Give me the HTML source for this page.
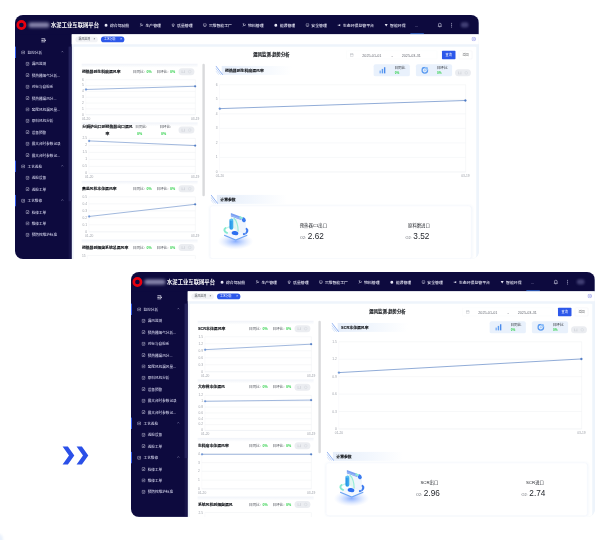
<!DOCTYPE html><html lang="zh-CN"><head><meta charset="utf-8"><title>漏风监测-趋势分析</title><style>
*{box-sizing:border-box;margin:0;padding:0}
html,body{width:604px;height:540px;background:#fff;overflow:hidden}
body{position:relative;font-family:"Liberation Sans","Noto Sans CJK SC",sans-serif;}
.wrap{position:absolute;width:463.7px;height:244.2px;border-radius:8px;overflow:hidden;background:#eef4fb}
.shot{position:absolute;left:0;top:0;width:1920px;height:1014px;transform:scale(0.2415);transform-origin:0 0;background:#eef4fb;color:#303133;font-size:14px}
.hdr{position:absolute;left:0;top:0;width:1920px;height:80px;background:#0d0a3e}
.navy{position:absolute;left:0;top:0;width:235px;height:1014px;background:#0d0a3e}
.side{position:absolute;left:0;top:80px;width:235px;height:930px}
.side .strip{position:absolute;left:222px;top:51px;width:12px;height:640px;background:#27265e;opacity:.85}
.logo{position:absolute;left:6px;top:21px;width:41px;height:41px;border-radius:50%;border:11px solid #e8000f}
.blurname{position:absolute;left:56px;top:31px;width:86px;height:21px;background:#8987ad;border-radius:8px;filter:blur(6px)}
.ptitle{position:absolute;left:149px;top:0;height:80px;line-height:82px;font-size:22px;font-weight:700;color:#fff;white-space:nowrap;letter-spacing:0.1px}
.nav{position:absolute;left:369px;top:0;height:80px;display:flex;align-items:center;color:#e8e8f6;font-size:16px;white-space:nowrap}
.nav .it{display:flex;align-items:center;margin-right:43px;height:80px;padding-top:4px;font-weight:500}
.nav .ic{width:16px;height:16px;margin-right:8px;flex:none}
.hdr .more{position:absolute;left:1655px;top:33px;color:#9a9ac0;font-size:18px;letter-spacing:0}
.hdr .bell{position:absolute;left:1749px;top:31px;width:20px;height:22px}
.hdr .dots{position:absolute;left:1805px;top:30px;width:6px;height:24px}
.hdr .ava{position:absolute;left:1846px;top:30px;width:32px;height:22px;border-radius:10px;background:#413f74;filter:blur(5px)}
.hdr .act{position:absolute;left:1637px;top:76px;width:56px;height:4px;background:#3a7bea}
.collapse{position:absolute;left:108px;top:16px;width:22px;height:18px}
.mi{position:absolute;left:0;width:235px;height:47.2px;line-height:47.2px;color:#d0d0e8;font-size:15px;font-weight:500;white-space:nowrap;padding-top:2px}
.mi.p{border-left:4px solid #2f5bf0}
.mi .ic{position:absolute;top:16px;width:16px;height:16px}
.mi .tx{position:absolute;top:2px}
.mi .chev{position:absolute;left:186px;top:17px;width:12px;height:8px}
.tabs{position:absolute;left:235px;top:80px;width:1685px;height:41px;background:#fff}
.tab{position:absolute;top:9px;height:24px;line-height:24px;border-radius:12px;font-size:12px;padding-left:13px;white-space:nowrap}
.tab .x{position:absolute;right:10px;top:0;font-size:13px}
.t1{left:15px;width:93px;background:#f2f3f6;color:#50545c}
.t2{left:121px;width:97px;background:#2d58ea;color:#fff}
.closeall{position:absolute;left:1655px;top:10px;width:19px;height:19px}
.panel{position:absolute;left:243px;top:131px;width:1667px;height:890px;background:#fff;border-radius:4px}
.h1{position:absolute;left:0;top:154px;width:200px;margin-left:962px;text-align:center;font-size:18px;font-weight:700;color:#14171c;-webkit-text-stroke:.4px #14171c;line-height:22px;white-space:nowrap}
.date{position:absolute;left:1372px;top:148px;width:376px;height:35px;border:1px solid #f3f5f8;border-radius:4px;font-size:15.5px;color:#6b6f78;line-height:35px;white-space:nowrap}
.date span{position:absolute;top:0}
.date svg{position:absolute;left:14px;top:9px;width:15px;height:15px}
.btn{position:absolute;top:148px;height:35px;line-height:35px;border-radius:3px;font-size:13px;text-align:center;white-space:nowrap}
.b1{left:1768px;width:56px;background:#2d58ea;color:#fff}
.b2{left:1838px;width:55px;background:#fff;color:#606266;border:1px solid #e4e7ed;line-height:33px}
.stat{position:absolute;top:204px;width:150px;height:50px;border-radius:8px;background:#e9f1fc}
.stat svg{position:absolute;left:22px;top:10px;width:30px;height:30px}
.stat .l{position:absolute;left:86px;top:7px;font-size:15px;color:#30343b;line-height:18px;white-space:nowrap}
.stat .v{position:absolute;left:87px;top:28px;font-size:13px;font-weight:700;color:#2fd04a;line-height:16px}
.pill{position:absolute;width:66px;height:29px;border-radius:15px;background:#ebedf1}
.pill i{position:absolute;top:8px;width:13px;height:13px;display:block}
.pill i.a{left:13px;border-left:3px solid #d2d5db;border-right:3px solid #d2d5db;border-bottom:2px solid #d2d5db;height:11px;top:9px}
.pill i.b{left:40px;border:2.5px solid #d2d5db;border-radius:50%}
.sec{position:absolute;height:37px;width:330px;background:linear-gradient(90deg,#e6eefa 0%,#f1f6fd 42%,#fff 88%)}
.sec .stripe{position:absolute;left:-26px;top:-1px;width:31px;height:38px}
.sec .tt{position:absolute;left:14px;top:0;line-height:38px;font-size:16px;font-weight:700;color:#14171c;white-space:nowrap;-webkit-text-stroke:.4px #14171c}
.lbl{position:absolute;font-size:13.5px;color:#a0a4ac;line-height:14px;white-space:nowrap}
.card{position:absolute;left:808px;top:791px;width:1082px;height:218px;background:#fff;border:1px solid #eef3fa;border-radius:10px;box-shadow:0 0 12px rgba(170,195,230,.22)}
.kv{position:absolute;top:0;width:437px;text-align:center}
.kv .k{position:absolute;left:0;width:100%;top:71px;font-size:18px;font-weight:400;color:#1f2228;line-height:20px;white-space:nowrap}
.kv .v{position:absolute;left:-6px;width:100%;top:105px;line-height:40px;white-space:nowrap;color:#24272d}
.kv .v small{font-size:15.5px;color:#5b5f68;margin-right:7px;position:relative;top:-1px}
.kv .v b{font-size:34px;font-weight:400}
.lc{position:absolute;left:276px;width:480px;height:243px}
.lc .top{position:absolute;left:0;top:0;width:480px;height:16px;background:linear-gradient(180deg,#f0f3f9,#fff)}
.lc .tt{position:absolute;left:1px;top:20px;font-size:16px;font-weight:700;color:#14171c;-webkit-text-stroke:.4px #14171c;line-height:24px;white-space:nowrap}
.lc .tt.w{width:212px;white-space:normal;text-align:center;top:3px;line-height:30px}
.lc .r{position:absolute;top:20px;font-size:15px;color:#50545c;line-height:24px;white-space:nowrap}
.lc .r b{color:#2fd04a;font-weight:700;margin-left:7px}
.lc .r.w{width:60px;white-space:normal;top:3px;line-height:30px}
.lc .r.w b{display:block;margin-left:7px}
.sbar{position:absolute;left:776px;top:202px;width:10px;border-radius:5px;background:#d9dadc}
.chev2{position:absolute;fill:#2b50e8}
</style></head><body><div class="wrap" style="left:15.4px;top:14.9px"><div class="shot"><div class="navy"></div><div class="hdr"><div class="logo"></div><div class="blurname"></div><div class="ptitle">水泥工业互联网平台</div><div class="nav"><div class="it"><svg class="ic" viewBox="0 0 14 14"><path d="M2 6.5a5 5 0 0 1 10 0v4.5H2z" fill="#e8e8f6"/><rect x="4" y="11" width="6" height="2" fill="#e8e8f6"/></svg><span>综合驾驶舱</span></div><div class="it"><svg class="ic" viewBox="0 0 14 14"><path d="M1 2h7M4.5 2v5M2 12l4-5 3 3 3-6" fill="none" stroke="#e8e8f6" stroke-width="2"/></svg><span>生产管理</span></div><div class="it"><svg class="ic" viewBox="0 0 14 14"><circle cx="7" cy="6" r="4" fill="none" stroke="#e8e8f6" stroke-width="2"/><path d="M7 10v3M4 13h6" stroke="#e8e8f6" stroke-width="1.6"/></svg><span>质量管理</span></div><div class="it"><svg class="ic" viewBox="0 0 14 14"><rect x="1.5" y="2" width="11" height="8" rx="1" fill="none" stroke="#e8e8f6" stroke-width="1.8"/><path d="M4 12.5h6" stroke="#e8e8f6" stroke-width="1.6"/></svg><span>三维智能工厂</span></div><div class="it"><svg class="ic" viewBox="0 0 14 14"><path d="M1 2h7M4.5 2v5M2 12l4-5 3 3 3-6" fill="none" stroke="#e8e8f6" stroke-width="2"/></svg><span>物料管理</span></div><div class="it"><svg class="ic" viewBox="0 0 14 14"><path d="M2 6.5a5 5 0 0 1 10 0v4.5H2z" fill="#e8e8f6"/><rect x="4" y="11" width="6" height="2" fill="#e8e8f6"/></svg><span>能源管理</span></div><div class="it"><svg class="ic" viewBox="0 0 14 14"><rect x="1.5" y="2" width="11" height="8" rx="1" fill="none" stroke="#e8e8f6" stroke-width="1.8"/><path d="M4 12.5h6" stroke="#e8e8f6" stroke-width="1.6"/></svg><span>安全管理</span></div><div class="it"><svg class="ic" viewBox="0 0 14 14"><path d="M11 3L4 7l7 4z" fill="#e8e8f6"/><rect x="2" y="5.5" width="3" height="3" fill="#e8e8f6"/></svg><span>生态环保监管平台</span></div><div class="it"><svg class="ic" viewBox="0 0 14 14"><path d="M1.5 3h11L7 12z" fill="#e8e8f6"/></svg><span>智能环保</span></div></div><div class="more">...</div><svg class="bell" viewBox="0 0 20 22"><path d="M10 2.5c-3.6 0-5.6 2.6-5.6 6v5L2.6 16h14.8l-1.8-2.5v-5c0-3.4-2-6-5.6-6z" fill="none" stroke="#e4e4f4" stroke-width="2.4"/><path d="M7.5 18.5h5" stroke="#e4e4f4" stroke-width="2.4"/></svg><svg class="dots" viewBox="0 0 6 24"><circle cx="3" cy="4" r="2.2" fill="#b8b8d6"/><circle cx="3" cy="12" r="2.2" fill="#b8b8d6"/><circle cx="3" cy="20" r="2.2" fill="#b8b8d6"/></svg><div class="ava"></div><div class="act"></div></div><div class="side"><div class="strip" style="height:885px;opacity:.35"></div><div class="strip"></div><svg class="collapse" viewBox="0 0 22 18"><path d="M1 2h16M1 9h10M1 16h16" stroke="#f0f0fa" stroke-width="3.6"/><path d="M14 3.5l7 5.5-7 5.5z" fill="#f0f0fa"/></svg><div class="mi p" style="top:51.0px"><span style="position:absolute;left:22px;top:0"><svg class="ic" style="left:0" viewBox="0 0 16 16"><rect x="1.2" y="1.6" width="13" height="13" rx="1.8" fill="none" stroke="#e6e6f6" stroke-width="2.1"/><path d="M4.4 7.6l2.8 2.9 4.6-5.6" fill="none" stroke="#e6e6f6" stroke-width="2"/></svg></span><span class="tx" style="left:48px">监控分析</span><svg class="chev" viewBox="0 0 10 7"><path d="M1 6l4-4 4 4" fill="none" stroke="#b0b0d0" stroke-width="1.7"/></svg></div><div class="mi" style="top:98.2px"><span style="position:absolute;left:44px;top:0"><svg class="ic" style="left:0" viewBox="0 0 16 16"><rect x="1.2" y="1.6" width="13" height="13" rx="1.8" fill="none" stroke="#e6e6f6" stroke-width="2.1"/><path d="M4.4 7.6l2.8 2.9 4.6-5.6" fill="none" stroke="#e6e6f6" stroke-width="2"/></svg></span><span class="tx" style="left:69px">漏风监测</span></div><div class="mi" style="top:145.4px"><span style="position:absolute;left:44px;top:0"><svg class="ic" style="left:0" viewBox="0 0 16 16"><rect x="1.2" y="1.6" width="13" height="13" rx="1.8" fill="none" stroke="#e6e6f6" stroke-width="2.1"/><path d="M4.4 7.6l2.8 2.9 4.6-5.6" fill="none" stroke="#e6e6f6" stroke-width="2"/></svg></span><span class="tx" style="left:69px">预热器烟气分析...</span></div><div class="mi" style="top:192.6px"><span style="position:absolute;left:44px;top:0"><svg class="ic" style="left:0" viewBox="0 0 16 16"><rect x="1.2" y="1.6" width="13" height="13" rx="1.8" fill="none" stroke="#e6e6f6" stroke-width="2.1"/><path d="M4.4 7.6l2.8 2.9 4.6-5.6" fill="none" stroke="#e6e6f6" stroke-width="2"/></svg></span><span class="tx" style="left:69px">对标与自检系</span></div><div class="mi" style="top:239.8px"><span style="position:absolute;left:44px;top:0"><svg class="ic" style="left:0" viewBox="0 0 16 16"><rect x="1.2" y="1.6" width="13" height="13" rx="1.8" fill="none" stroke="#e6e6f6" stroke-width="2.1"/><path d="M4.4 7.6l2.8 2.9 4.6-5.6" fill="none" stroke="#e6e6f6" stroke-width="2"/></svg></span><span class="tx" style="left:69px">预热器漏风分...</span></div><div class="mi" style="top:287.0px"><span style="position:absolute;left:44px;top:0"><svg class="ic" style="left:0" viewBox="0 0 16 16"><rect x="1.2" y="1.6" width="13" height="13" rx="1.8" fill="none" stroke="#e6e6f6" stroke-width="2.1"/><path d="M4.4 7.6l2.8 2.9 4.6-5.6" fill="none" stroke="#e6e6f6" stroke-width="2"/></svg></span><span class="tx" style="left:69px">窑尾风机漏风量...</span></div><div class="mi" style="top:334.2px"><span style="position:absolute;left:44px;top:0"><svg class="ic" style="left:0" viewBox="0 0 16 16"><rect x="1.2" y="1.6" width="13" height="13" rx="1.8" fill="none" stroke="#e6e6f6" stroke-width="2.1"/><path d="M4.4 7.6l2.8 2.9 4.6-5.6" fill="none" stroke="#e6e6f6" stroke-width="2"/></svg></span><span class="tx" style="left:69px">原料风机分析</span></div><div class="mi" style="top:381.4px"><span style="position:absolute;left:44px;top:0"><svg class="ic" style="left:0" viewBox="0 0 16 16"><rect x="1.2" y="1.6" width="13" height="13" rx="1.8" fill="none" stroke="#e6e6f6" stroke-width="2.1"/><path d="M4.4 7.6l2.8 2.9 4.6-5.6" fill="none" stroke="#e6e6f6" stroke-width="2"/></svg></span><span class="tx" style="left:69px">设备预警</span></div><div class="mi" style="top:428.6px"><span style="position:absolute;left:44px;top:0"><svg class="ic" style="left:0" viewBox="0 0 16 16"><rect x="1.2" y="1.6" width="13" height="13" rx="1.8" fill="none" stroke="#e6e6f6" stroke-width="2.1"/><path d="M4.4 7.6l2.8 2.9 4.6-5.6" fill="none" stroke="#e6e6f6" stroke-width="2"/></svg></span><span class="tx" style="left:69px">最大台时参数记录</span></div><div class="mi" style="top:475.8px"><span style="position:absolute;left:44px;top:0"><svg class="ic" style="left:0" viewBox="0 0 16 16"><rect x="1.2" y="1.6" width="13" height="13" rx="1.8" fill="none" stroke="#e6e6f6" stroke-width="2.1"/><path d="M4.4 7.6l2.8 2.9 4.6-5.6" fill="none" stroke="#e6e6f6" stroke-width="2"/></svg></span><span class="tx" style="left:69px">最大台时参数记...</span></div><div class="mi p" style="top:523.0px"><span style="position:absolute;left:22px;top:0"><svg class="ic" style="left:0" viewBox="0 0 16 16"><rect x="1.2" y="1.6" width="13" height="13" rx="1.8" fill="none" stroke="#e6e6f6" stroke-width="2.1"/><path d="M4.4 7.6l2.8 2.9 4.6-5.6" fill="none" stroke="#e6e6f6" stroke-width="2"/></svg></span><span class="tx" style="left:48px">工艺巡检</span><svg class="chev" viewBox="0 0 10 7"><path d="M1 6l4-4 4 4" fill="none" stroke="#b0b0d0" stroke-width="1.7"/></svg></div><div class="mi" style="top:570.2px"><span style="position:absolute;left:44px;top:0"><svg class="ic" style="left:0" viewBox="0 0 16 16"><rect x="1.2" y="1.6" width="13" height="13" rx="1.8" fill="none" stroke="#e6e6f6" stroke-width="2.1"/><path d="M4.4 7.6l2.8 2.9 4.6-5.6" fill="none" stroke="#e6e6f6" stroke-width="2"/></svg></span><span class="tx" style="left:69px">巡检设备</span></div><div class="mi" style="top:617.4px"><span style="position:absolute;left:44px;top:0"><svg class="ic" style="left:0" viewBox="0 0 16 16"><rect x="1.2" y="1.6" width="13" height="13" rx="1.8" fill="none" stroke="#e6e6f6" stroke-width="2.1"/><path d="M4.4 7.6l2.8 2.9 4.6-5.6" fill="none" stroke="#e6e6f6" stroke-width="2"/></svg></span><span class="tx" style="left:69px">巡检工单</span></div><div class="mi p" style="top:664.6px"><span style="position:absolute;left:22px;top:0"><svg class="ic" style="left:0" viewBox="0 0 16 16"><rect x="1.2" y="1.6" width="13" height="13" rx="1.8" fill="none" stroke="#e6e6f6" stroke-width="2.1"/><path d="M4.4 7.6l2.8 2.9 4.6-5.6" fill="none" stroke="#e6e6f6" stroke-width="2"/></svg></span><span class="tx" style="left:48px">工艺维修</span><svg class="chev" viewBox="0 0 10 7"><path d="M1 6l4-4 4 4" fill="none" stroke="#b0b0d0" stroke-width="1.7"/></svg></div><div class="mi" style="top:711.8px"><span style="position:absolute;left:44px;top:0"><svg class="ic" style="left:0" viewBox="0 0 16 16"><rect x="1.2" y="1.6" width="13" height="13" rx="1.8" fill="none" stroke="#e6e6f6" stroke-width="2.1"/><path d="M4.4 7.6l2.8 2.9 4.6-5.6" fill="none" stroke="#e6e6f6" stroke-width="2"/></svg></span><span class="tx" style="left:69px">检修工单</span></div><div class="mi" style="top:759.0px"><span style="position:absolute;left:44px;top:0"><svg class="ic" style="left:0" viewBox="0 0 16 16"><rect x="1.2" y="1.6" width="13" height="13" rx="1.8" fill="none" stroke="#e6e6f6" stroke-width="2.1"/><path d="M4.4 7.6l2.8 2.9 4.6-5.6" fill="none" stroke="#e6e6f6" stroke-width="2"/></svg></span><span class="tx" style="left:69px">维修工单</span></div><div class="mi" style="top:806.2px"><span style="position:absolute;left:44px;top:0"><svg class="ic" style="left:0" viewBox="0 0 16 16"><rect x="1.2" y="1.6" width="13" height="13" rx="1.8" fill="none" stroke="#e6e6f6" stroke-width="2.1"/><path d="M4.4 7.6l2.8 2.9 4.6-5.6" fill="none" stroke="#e6e6f6" stroke-width="2"/></svg></span><span class="tx" style="left:69px">预防性维护标准</span></div></div><div class="tabs"><div class="tab t1">漏风监测<span class="x">×</span></div><div class="tab t2">工艺分析<span class="x">×</span></div><svg class="closeall" viewBox="0 0 19 19"><circle cx="9.5" cy="9.5" r="8" fill="#f1f2ff" stroke="#7f84e2" stroke-width="2"/><path d="M6.3 6.3l6.4 6.4M12.7 6.3l-6.4 6.4" stroke="#7f84e2" stroke-width="1.8"/></svg></div><div class="panel"></div><div class="h1">漏风监测-趋势分析</div><div class="date"><svg viewBox="0 0 14 14"><rect x="1" y="2" width="12" height="11" rx="1" fill="none" stroke="#a4a8b0" stroke-width="1.6"/><path d="M1 5.5h12M4 .5v3M10 .5v3" stroke="#a4a8b0" stroke-width="1.6"/></svg><span style="left:65px">2025-01-01</span><span style="left:186px">-</span><span style="left:228px">2025-03-31</span></div><div class="btn b1">查询</div><div class="btn b2">返回</div><div class="stat" style="left:1485px"><svg viewBox="0 0 26 26"><rect x="2" y="14" width="5" height="10" fill="#7fb0f5"/><rect x="10" y="8" width="5" height="16" fill="#5b9bf0"/><rect x="18" y="2" width="5" height="22" fill="#4a8bec"/></svg><div class="l">日同比</div><div class="v">0%</div></div><div class="stat" style="left:1660px"><svg viewBox="0 0 26 26"><circle cx="13" cy="13" r="10" fill="none" stroke="#5b9bf0" stroke-width="5"/><path d="M13 3a10 10 0 0 1 10 10" fill="none" stroke="#8fc0fa" stroke-width="5"/><circle cx="13" cy="13" r="4" fill="#a9cdf9"/></svg><div class="l">日环比</div><div class="v">0%</div></div><div class="pill" style="left:1822px;top:225px"><i class="a"></i><i class="b"></i></div><div class="sec" style="left:856px;top:211px"><svg class="stripe" viewBox="0 0 30 36"><path d="M1 0L29 36" stroke="#4a80ea" stroke-width="2.4"/><path d="M1 10L21 36" stroke="#8fb4f3" stroke-width="2.2"/><path d="M1 20L13 36" stroke="#bcd2f7" stroke-width="2"/></svg><div class="tt">预热器到生料磨漏风率</div></div><svg style="position:absolute;left:837px;top:279px;width:1039px;height:381px;overflow:visible" viewBox="-10 -10 1039 381"><path d="M0 0.0H1019" stroke="#eceef2" stroke-width="1.8"/><path d="M0 60.2H1019" stroke="#eceef2" stroke-width="1.8"/><path d="M0 120.3H1019" stroke="#eceef2" stroke-width="1.8"/><path d="M0 180.5H1019" stroke="#eceef2" stroke-width="1.8"/><path d="M0 240.7H1019" stroke="#eceef2" stroke-width="1.8"/><path d="M0 300.8H1019" stroke="#eceef2" stroke-width="1.8"/><path d="M0 361.0H1019" stroke="#dfe3e9" stroke-width="1.8"/><path d="M1019 0V361" stroke="#eceef2" stroke-width="1.8"/><path d="M0 0V361" stroke="#f1f3f6" stroke-width="1.6"/><path d="M1 98.7L1018 65.0" stroke="#5c84c4" stroke-width="2.8" fill="none"/><circle cx="1" cy="98.7" r="4" fill="#6f9be0" stroke="#5c84c4" stroke-width="1.5"/><circle cx="1018" cy="65.0" r="4" fill="#4d79c4" stroke="#4d79c4" stroke-width="1.5"/></svg><div class="lbl" style="left:801px;width:38px;text-align:right;top:282.0px">6</div><div class="lbl" style="left:801px;width:38px;text-align:right;top:342.2px">5</div><div class="lbl" style="left:801px;width:38px;text-align:right;top:402.3px">4</div><div class="lbl" style="left:801px;width:38px;text-align:right;top:462.5px">3</div><div class="lbl" style="left:801px;width:38px;text-align:right;top:522.7px">2</div><div class="lbl" style="left:801px;width:38px;text-align:right;top:582.8px">1</div><div class="lbl" style="left:801px;width:38px;text-align:right;top:643.0px">0</div><div class="lbl" style="left:831px;top:661px">01-20</div><div class="lbl" style="left:1848px;top:661px">03-19</div><div class="sec" style="left:836px;top:745px"><svg class="stripe" viewBox="0 0 30 36"><path d="M1 0L29 36" stroke="#4a80ea" stroke-width="2.4"/><path d="M1 10L21 36" stroke="#8fb4f3" stroke-width="2.2"/><path d="M1 20L13 36" stroke="#bcd2f7" stroke-width="2"/></svg><div class="tt">计算参数</div></div><div class="card"><svg style="position:absolute;left:1px;top:-2px;width:220px;height:216px;overflow:visible" viewBox="0 0 220 216">
<defs><radialGradient id="g1" cx="50%" cy="50%" r="50%"><stop offset="0" stop-color="#6f9cff" stop-opacity=".8"/><stop offset=".5" stop-color="#8fb3ff" stop-opacity=".38"/><stop offset="1" stop-color="#c4d6ff" stop-opacity="0"/></radialGradient>
<linearGradient id="c1" x1="0" x2="1"><stop offset="0" stop-color="#1f8fe6"/><stop offset="1" stop-color="#49b4f2"/></linearGradient></defs>
<ellipse cx="103" cy="148" rx="74" ry="33" fill="url(#g1)"/>
<path d="M104 105l45 17-45 18-45-18z" fill="#6fa4f4" stroke="#6fa4f4" stroke-width="7" stroke-linejoin="round"/>
<path d="M104 100l45 17-45 18-45-18z" fill="#f4f8fe" stroke="#f4f8fe" stroke-width="7" stroke-linejoin="round"/>
<path d="M62 92c-8 5-7 15 6 20" fill="none" stroke="#86ead0" stroke-width="8" stroke-linecap="round"/>
<path d="M66 92c14-7 26-7 38-3" fill="none" stroke="#b4f2e0" stroke-width="5" stroke-linecap="round" opacity=".8"/>
<path d="M148 96c8 6 4 16-10 21" fill="none" stroke="#3f7cf0" stroke-width="9" stroke-linecap="round"/>
<path d="M106 44l38 14v56l-38-12z" fill="#f0f5fd" stroke="#dde7f8" stroke-width="1.2"/>
<path d="M84 30l42 15v14l-42-15z" fill="#7ba0f2"/>
<path d="M84 40l42 15" stroke="#a9c3f8" stroke-width="3"/>
<path d="M84 46l24 9v44l-24-9z" fill="#dff5f0" opacity=".9"/>
<path d="M96 50c12 12 18 34 18 56" stroke="#8decd2" stroke-width="5" fill="none" opacity=".9"/>
<rect x="78" y="54" width="16" height="45" rx="8" fill="url(#c1)"/>
<ellipse cx="86" cy="58" rx="8" ry="4" fill="#5cc0f5"/>
<ellipse cx="137" cy="58" rx="8" ry="10.5" transform="rotate(-30 137 58)" fill="#3b7cf0"/>
<ellipse cx="126" cy="49" rx="8" ry="4.5" transform="rotate(25 126 49)" fill="#8decd2"/>
<ellipse cx="101" cy="113" rx="14" ry="8.5" transform="rotate(10 101 113)" fill="#2d6ff0"/>
</svg><div class="kv" style="left:208px"><div class="k">预热器C1出口</div><div class="v"><small>O2:</small><b>2.62</b></div></div><div class="kv" style="left:645px"><div class="k">原料磨进口</div><div class="v"><small>O2:</small><b>3.52</b></div></div></div><div class="lc" style="top:202.0px"><div class="top"></div><div class="tt">预热器到生料磨漏风率</div><div class="r" style="left:212px">日同比:<b>0%</b></div><div class="r" style="left:310px">日环比:<b>0%</b></div><div class="pill" style="left:401px;top:18px"><i class="a"></i><i class="b"></i></div><svg style="position:absolute;left:7px;top:56px;width:474px;height:165px;overflow:visible" viewBox="-10 -10 474 165"><path d="M0 0.0H454" stroke="#eceef2" stroke-width="1.8"/><path d="M0 24.2H454" stroke="#eceef2" stroke-width="1.8"/><path d="M0 48.3H454" stroke="#eceef2" stroke-width="1.8"/><path d="M0 72.5H454" stroke="#eceef2" stroke-width="1.8"/><path d="M0 96.7H454" stroke="#eceef2" stroke-width="1.8"/><path d="M0 120.8H454" stroke="#eceef2" stroke-width="1.8"/><path d="M0 145.0H454" stroke="#dfe3e9" stroke-width="1.8"/><path d="M454 0V145" stroke="#eceef2" stroke-width="1.8"/><path d="M0 0V145" stroke="#f1f3f6" stroke-width="1.6"/><path d="M1 40.4L453 27.1" stroke="#5c84c4" stroke-width="2.4" fill="none"/><circle cx="1" cy="40.4" r="3.6" fill="#6f9be0" stroke="#5c84c4" stroke-width="1.5"/><circle cx="453" cy="27.1" r="3.6" fill="#4d79c4" stroke="#4d79c4" stroke-width="1.5"/></svg><div class="lbl" style="left:-29px;width:38px;text-align:right;top:59.0px">6</div><div class="lbl" style="left:-29px;width:38px;text-align:right;top:83.2px">5</div><div class="lbl" style="left:-29px;width:38px;text-align:right;top:107.3px">4</div><div class="lbl" style="left:-29px;width:38px;text-align:right;top:131.5px">3</div><div class="lbl" style="left:-29px;width:38px;text-align:right;top:155.7px">2</div><div class="lbl" style="left:-29px;width:38px;text-align:right;top:179.8px">1</div><div class="lbl" style="left:-29px;width:38px;text-align:right;top:204.0px">0</div><div class="lbl" style="left:1px;top:220px">01-20</div><div class="lbl" style="left:453px;top:220px">03-19</div></div><div class="lc" style="top:444.6px"><div class="top"></div><div class="tt w">分解炉出口到预热器出口漏风率</div><div class="r w" style="left:222px">日同比:<b>0%</b></div><div class="r w" style="left:322px">日环比:<b>0%</b></div><div class="pill" style="left:401px;top:17px"><i class="a"></i><i class="b"></i></div><svg style="position:absolute;left:20px;top:56px;width:461px;height:165px;overflow:visible" viewBox="-10 -10 461 165"><path d="M0 0.0H441" stroke="#eceef2" stroke-width="1.8"/><path d="M0 29.0H441" stroke="#eceef2" stroke-width="1.8"/><path d="M0 58.0H441" stroke="#eceef2" stroke-width="1.8"/><path d="M0 87.0H441" stroke="#eceef2" stroke-width="1.8"/><path d="M0 116.0H441" stroke="#eceef2" stroke-width="1.8"/><path d="M0 145.0H441" stroke="#dfe3e9" stroke-width="1.8"/><path d="M441 0V145" stroke="#eceef2" stroke-width="1.8"/><path d="M0 0V145" stroke="#f1f3f6" stroke-width="1.6"/><path d="M1 10.4L440 29.6" stroke="#5c84c4" stroke-width="2.4" fill="none"/><circle cx="1" cy="10.4" r="3.6" fill="#6f9be0" stroke="#5c84c4" stroke-width="1.5"/><circle cx="440" cy="29.6" r="3.6" fill="#4d79c4" stroke="#4d79c4" stroke-width="1.5"/></svg><div class="lbl" style="left:-16px;width:38px;text-align:right;top:59.0px">2.5</div><div class="lbl" style="left:-16px;width:38px;text-align:right;top:88.0px">2</div><div class="lbl" style="left:-16px;width:38px;text-align:right;top:117.0px">1.5</div><div class="lbl" style="left:-16px;width:38px;text-align:right;top:146.0px">1</div><div class="lbl" style="left:-16px;width:38px;text-align:right;top:175.0px">0.5</div><div class="lbl" style="left:-16px;width:38px;text-align:right;top:204.0px">0</div><div class="lbl" style="left:14px;top:220px">01-20</div><div class="lbl" style="left:453px;top:220px">03-19</div></div><div class="lc" style="top:687.2px"><div class="top"></div><div class="tt">高温风机本体漏风率</div><div class="r" style="left:212px">日同比:<b>0%</b></div><div class="r" style="left:310px">日环比:<b>0%</b></div><div class="pill" style="left:401px;top:18px"><i class="a"></i><i class="b"></i></div><svg style="position:absolute;left:20px;top:56px;width:461px;height:165px;overflow:visible" viewBox="-10 -10 461 165"><path d="M0 0.0H441" stroke="#eceef2" stroke-width="1.8"/><path d="M0 29.0H441" stroke="#eceef2" stroke-width="1.8"/><path d="M0 58.0H441" stroke="#eceef2" stroke-width="1.8"/><path d="M0 87.0H441" stroke="#eceef2" stroke-width="1.8"/><path d="M0 116.0H441" stroke="#eceef2" stroke-width="1.8"/><path d="M0 145.0H441" stroke="#dfe3e9" stroke-width="1.8"/><path d="M441 0V145" stroke="#eceef2" stroke-width="1.8"/><path d="M0 0V145" stroke="#f1f3f6" stroke-width="1.6"/><path d="M1 81.2L440 31.0" stroke="#5c84c4" stroke-width="2.4" fill="none"/><circle cx="1" cy="81.2" r="3.6" fill="#6f9be0" stroke="#5c84c4" stroke-width="1.5"/><circle cx="440" cy="31.0" r="3.6" fill="#4d79c4" stroke="#4d79c4" stroke-width="1.5"/></svg><div class="lbl" style="left:-16px;width:38px;text-align:right;top:59.0px">0.5</div><div class="lbl" style="left:-16px;width:38px;text-align:right;top:88.0px">0.4</div><div class="lbl" style="left:-16px;width:38px;text-align:right;top:117.0px">0.3</div><div class="lbl" style="left:-16px;width:38px;text-align:right;top:146.0px">0.2</div><div class="lbl" style="left:-16px;width:38px;text-align:right;top:175.0px">0.1</div><div class="lbl" style="left:-16px;width:38px;text-align:right;top:204.0px">0</div><div class="lbl" style="left:14px;top:220px">01-20</div><div class="lbl" style="left:453px;top:220px">03-19</div></div><div class="lc" style="top:929.8px"><div class="top"></div><div class="tt">预热器到烟囱系统总漏风率</div><div class="r" style="left:212px">日同比:<b>0%</b></div><div class="r" style="left:310px">日环比:<b>0%</b></div><div class="pill" style="left:401px;top:18px"><i class="a"></i><i class="b"></i></div><svg style="position:absolute;left:14px;top:56px;width:467px;height:165px;overflow:visible" viewBox="-10 -10 467 165"><path d="M0 0.0H447" stroke="#eceef2" stroke-width="1.8"/><path d="M0 29.0H447" stroke="#eceef2" stroke-width="1.8"/><path d="M0 58.0H447" stroke="#eceef2" stroke-width="1.8"/><path d="M0 87.0H447" stroke="#eceef2" stroke-width="1.8"/><path d="M0 116.0H447" stroke="#eceef2" stroke-width="1.8"/><path d="M0 145.0H447" stroke="#dfe3e9" stroke-width="1.8"/><path d="M447 0V145" stroke="#eceef2" stroke-width="1.8"/><path d="M0 0V145" stroke="#f1f3f6" stroke-width="1.6"/><path d="M1 38.7L446 29.0" stroke="#5c84c4" stroke-width="2.4" fill="none"/><circle cx="1" cy="38.7" r="3.6" fill="#6f9be0" stroke="#5c84c4" stroke-width="1.5"/><circle cx="446" cy="29.0" r="3.6" fill="#4d79c4" stroke="#4d79c4" stroke-width="1.5"/></svg><div class="lbl" style="left:-22px;width:38px;text-align:right;top:59.0px">15</div><div class="lbl" style="left:-22px;width:38px;text-align:right;top:88.0px">12</div><div class="lbl" style="left:-22px;width:38px;text-align:right;top:117.0px">9</div><div class="lbl" style="left:-22px;width:38px;text-align:right;top:146.0px">6</div><div class="lbl" style="left:-22px;width:38px;text-align:right;top:175.0px">3</div><div class="lbl" style="left:-22px;width:38px;text-align:right;top:204.0px">0</div><div class="lbl" style="left:8px;top:220px">01-20</div><div class="lbl" style="left:453px;top:220px">03-19</div></div><div class="sbar" style="height:548px"></div></div></div><div class="wrap" style="left:130.9px;top:272.4px"><div class="shot"><div class="navy"></div><div class="hdr"><div class="logo"></div><div class="blurname"></div><div class="ptitle">水泥工业互联网平台</div><div class="nav"><div class="it"><svg class="ic" viewBox="0 0 14 14"><path d="M2 6.5a5 5 0 0 1 10 0v4.5H2z" fill="#e8e8f6"/><rect x="4" y="11" width="6" height="2" fill="#e8e8f6"/></svg><span>综合驾驶舱</span></div><div class="it"><svg class="ic" viewBox="0 0 14 14"><path d="M1 2h7M4.5 2v5M2 12l4-5 3 3 3-6" fill="none" stroke="#e8e8f6" stroke-width="2"/></svg><span>生产管理</span></div><div class="it"><svg class="ic" viewBox="0 0 14 14"><circle cx="7" cy="6" r="4" fill="none" stroke="#e8e8f6" stroke-width="2"/><path d="M7 10v3M4 13h6" stroke="#e8e8f6" stroke-width="1.6"/></svg><span>质量管理</span></div><div class="it"><svg class="ic" viewBox="0 0 14 14"><rect x="1.5" y="2" width="11" height="8" rx="1" fill="none" stroke="#e8e8f6" stroke-width="1.8"/><path d="M4 12.5h6" stroke="#e8e8f6" stroke-width="1.6"/></svg><span>三维智能工厂</span></div><div class="it"><svg class="ic" viewBox="0 0 14 14"><path d="M1 2h7M4.5 2v5M2 12l4-5 3 3 3-6" fill="none" stroke="#e8e8f6" stroke-width="2"/></svg><span>物料管理</span></div><div class="it"><svg class="ic" viewBox="0 0 14 14"><path d="M2 6.5a5 5 0 0 1 10 0v4.5H2z" fill="#e8e8f6"/><rect x="4" y="11" width="6" height="2" fill="#e8e8f6"/></svg><span>能源管理</span></div><div class="it"><svg class="ic" viewBox="0 0 14 14"><rect x="1.5" y="2" width="11" height="8" rx="1" fill="none" stroke="#e8e8f6" stroke-width="1.8"/><path d="M4 12.5h6" stroke="#e8e8f6" stroke-width="1.6"/></svg><span>安全管理</span></div><div class="it"><svg class="ic" viewBox="0 0 14 14"><path d="M11 3L4 7l7 4z" fill="#e8e8f6"/><rect x="2" y="5.5" width="3" height="3" fill="#e8e8f6"/></svg><span>生态环保监管平台</span></div><div class="it"><svg class="ic" viewBox="0 0 14 14"><path d="M1.5 3h11L7 12z" fill="#e8e8f6"/></svg><span>智能环保</span></div></div><div class="more">...</div><svg class="bell" viewBox="0 0 20 22"><path d="M10 2.5c-3.6 0-5.6 2.6-5.6 6v5L2.6 16h14.8l-1.8-2.5v-5c0-3.4-2-6-5.6-6z" fill="none" stroke="#e4e4f4" stroke-width="2.4"/><path d="M7.5 18.5h5" stroke="#e4e4f4" stroke-width="2.4"/></svg><svg class="dots" viewBox="0 0 6 24"><circle cx="3" cy="4" r="2.2" fill="#b8b8d6"/><circle cx="3" cy="12" r="2.2" fill="#b8b8d6"/><circle cx="3" cy="20" r="2.2" fill="#b8b8d6"/></svg><div class="ava"></div><div class="act"></div></div><div class="side"><div class="strip" style="height:885px;opacity:.35"></div><div class="strip"></div><svg class="collapse" viewBox="0 0 22 18"><path d="M1 2h16M1 9h10M1 16h16" stroke="#f0f0fa" stroke-width="3.6"/><path d="M14 3.5l7 5.5-7 5.5z" fill="#f0f0fa"/></svg><div class="mi p" style="top:51.0px"><span style="position:absolute;left:22px;top:0"><svg class="ic" style="left:0" viewBox="0 0 16 16"><rect x="1.2" y="1.6" width="13" height="13" rx="1.8" fill="none" stroke="#e6e6f6" stroke-width="2.1"/><path d="M4.4 7.6l2.8 2.9 4.6-5.6" fill="none" stroke="#e6e6f6" stroke-width="2"/></svg></span><span class="tx" style="left:48px">监控分析</span><svg class="chev" viewBox="0 0 10 7"><path d="M1 6l4-4 4 4" fill="none" stroke="#b0b0d0" stroke-width="1.7"/></svg></div><div class="mi" style="top:98.2px"><span style="position:absolute;left:44px;top:0"><svg class="ic" style="left:0" viewBox="0 0 16 16"><rect x="1.2" y="1.6" width="13" height="13" rx="1.8" fill="none" stroke="#e6e6f6" stroke-width="2.1"/><path d="M4.4 7.6l2.8 2.9 4.6-5.6" fill="none" stroke="#e6e6f6" stroke-width="2"/></svg></span><span class="tx" style="left:69px">漏风监测</span></div><div class="mi" style="top:145.4px"><span style="position:absolute;left:44px;top:0"><svg class="ic" style="left:0" viewBox="0 0 16 16"><rect x="1.2" y="1.6" width="13" height="13" rx="1.8" fill="none" stroke="#e6e6f6" stroke-width="2.1"/><path d="M4.4 7.6l2.8 2.9 4.6-5.6" fill="none" stroke="#e6e6f6" stroke-width="2"/></svg></span><span class="tx" style="left:69px">预热器烟气分析...</span></div><div class="mi" style="top:192.6px"><span style="position:absolute;left:44px;top:0"><svg class="ic" style="left:0" viewBox="0 0 16 16"><rect x="1.2" y="1.6" width="13" height="13" rx="1.8" fill="none" stroke="#e6e6f6" stroke-width="2.1"/><path d="M4.4 7.6l2.8 2.9 4.6-5.6" fill="none" stroke="#e6e6f6" stroke-width="2"/></svg></span><span class="tx" style="left:69px">对标与自检系</span></div><div class="mi" style="top:239.8px"><span style="position:absolute;left:44px;top:0"><svg class="ic" style="left:0" viewBox="0 0 16 16"><rect x="1.2" y="1.6" width="13" height="13" rx="1.8" fill="none" stroke="#e6e6f6" stroke-width="2.1"/><path d="M4.4 7.6l2.8 2.9 4.6-5.6" fill="none" stroke="#e6e6f6" stroke-width="2"/></svg></span><span class="tx" style="left:69px">预热器漏风分...</span></div><div class="mi" style="top:287.0px"><span style="position:absolute;left:44px;top:0"><svg class="ic" style="left:0" viewBox="0 0 16 16"><rect x="1.2" y="1.6" width="13" height="13" rx="1.8" fill="none" stroke="#e6e6f6" stroke-width="2.1"/><path d="M4.4 7.6l2.8 2.9 4.6-5.6" fill="none" stroke="#e6e6f6" stroke-width="2"/></svg></span><span class="tx" style="left:69px">窑尾风机漏风量...</span></div><div class="mi" style="top:334.2px"><span style="position:absolute;left:44px;top:0"><svg class="ic" style="left:0" viewBox="0 0 16 16"><rect x="1.2" y="1.6" width="13" height="13" rx="1.8" fill="none" stroke="#e6e6f6" stroke-width="2.1"/><path d="M4.4 7.6l2.8 2.9 4.6-5.6" fill="none" stroke="#e6e6f6" stroke-width="2"/></svg></span><span class="tx" style="left:69px">原料风机分析</span></div><div class="mi" style="top:381.4px"><span style="position:absolute;left:44px;top:0"><svg class="ic" style="left:0" viewBox="0 0 16 16"><rect x="1.2" y="1.6" width="13" height="13" rx="1.8" fill="none" stroke="#e6e6f6" stroke-width="2.1"/><path d="M4.4 7.6l2.8 2.9 4.6-5.6" fill="none" stroke="#e6e6f6" stroke-width="2"/></svg></span><span class="tx" style="left:69px">设备预警</span></div><div class="mi" style="top:428.6px"><span style="position:absolute;left:44px;top:0"><svg class="ic" style="left:0" viewBox="0 0 16 16"><rect x="1.2" y="1.6" width="13" height="13" rx="1.8" fill="none" stroke="#e6e6f6" stroke-width="2.1"/><path d="M4.4 7.6l2.8 2.9 4.6-5.6" fill="none" stroke="#e6e6f6" stroke-width="2"/></svg></span><span class="tx" style="left:69px">最大台时参数记录</span></div><div class="mi" style="top:475.8px"><span style="position:absolute;left:44px;top:0"><svg class="ic" style="left:0" viewBox="0 0 16 16"><rect x="1.2" y="1.6" width="13" height="13" rx="1.8" fill="none" stroke="#e6e6f6" stroke-width="2.1"/><path d="M4.4 7.6l2.8 2.9 4.6-5.6" fill="none" stroke="#e6e6f6" stroke-width="2"/></svg></span><span class="tx" style="left:69px">最大台时参数记...</span></div><div class="mi p" style="top:523.0px"><span style="position:absolute;left:22px;top:0"><svg class="ic" style="left:0" viewBox="0 0 16 16"><rect x="1.2" y="1.6" width="13" height="13" rx="1.8" fill="none" stroke="#e6e6f6" stroke-width="2.1"/><path d="M4.4 7.6l2.8 2.9 4.6-5.6" fill="none" stroke="#e6e6f6" stroke-width="2"/></svg></span><span class="tx" style="left:48px">工艺巡检</span><svg class="chev" viewBox="0 0 10 7"><path d="M1 6l4-4 4 4" fill="none" stroke="#b0b0d0" stroke-width="1.7"/></svg></div><div class="mi" style="top:570.2px"><span style="position:absolute;left:44px;top:0"><svg class="ic" style="left:0" viewBox="0 0 16 16"><rect x="1.2" y="1.6" width="13" height="13" rx="1.8" fill="none" stroke="#e6e6f6" stroke-width="2.1"/><path d="M4.4 7.6l2.8 2.9 4.6-5.6" fill="none" stroke="#e6e6f6" stroke-width="2"/></svg></span><span class="tx" style="left:69px">巡检设备</span></div><div class="mi" style="top:617.4px"><span style="position:absolute;left:44px;top:0"><svg class="ic" style="left:0" viewBox="0 0 16 16"><rect x="1.2" y="1.6" width="13" height="13" rx="1.8" fill="none" stroke="#e6e6f6" stroke-width="2.1"/><path d="M4.4 7.6l2.8 2.9 4.6-5.6" fill="none" stroke="#e6e6f6" stroke-width="2"/></svg></span><span class="tx" style="left:69px">巡检工单</span></div><div class="mi p" style="top:664.6px"><span style="position:absolute;left:22px;top:0"><svg class="ic" style="left:0" viewBox="0 0 16 16"><rect x="1.2" y="1.6" width="13" height="13" rx="1.8" fill="none" stroke="#e6e6f6" stroke-width="2.1"/><path d="M4.4 7.6l2.8 2.9 4.6-5.6" fill="none" stroke="#e6e6f6" stroke-width="2"/></svg></span><span class="tx" style="left:48px">工艺维修</span><svg class="chev" viewBox="0 0 10 7"><path d="M1 6l4-4 4 4" fill="none" stroke="#b0b0d0" stroke-width="1.7"/></svg></div><div class="mi" style="top:711.8px"><span style="position:absolute;left:44px;top:0"><svg class="ic" style="left:0" viewBox="0 0 16 16"><rect x="1.2" y="1.6" width="13" height="13" rx="1.8" fill="none" stroke="#e6e6f6" stroke-width="2.1"/><path d="M4.4 7.6l2.8 2.9 4.6-5.6" fill="none" stroke="#e6e6f6" stroke-width="2"/></svg></span><span class="tx" style="left:69px">检修工单</span></div><div class="mi" style="top:759.0px"><span style="position:absolute;left:44px;top:0"><svg class="ic" style="left:0" viewBox="0 0 16 16"><rect x="1.2" y="1.6" width="13" height="13" rx="1.8" fill="none" stroke="#e6e6f6" stroke-width="2.1"/><path d="M4.4 7.6l2.8 2.9 4.6-5.6" fill="none" stroke="#e6e6f6" stroke-width="2"/></svg></span><span class="tx" style="left:69px">维修工单</span></div><div class="mi" style="top:806.2px"><span style="position:absolute;left:44px;top:0"><svg class="ic" style="left:0" viewBox="0 0 16 16"><rect x="1.2" y="1.6" width="13" height="13" rx="1.8" fill="none" stroke="#e6e6f6" stroke-width="2.1"/><path d="M4.4 7.6l2.8 2.9 4.6-5.6" fill="none" stroke="#e6e6f6" stroke-width="2"/></svg></span><span class="tx" style="left:69px">预防性维护标准</span></div></div><div class="tabs"><div class="tab t1">漏风监测<span class="x">×</span></div><div class="tab t2">工艺分析<span class="x">×</span></div><svg class="closeall" viewBox="0 0 19 19"><circle cx="9.5" cy="9.5" r="8" fill="#f1f2ff" stroke="#7f84e2" stroke-width="2"/><path d="M6.3 6.3l6.4 6.4M12.7 6.3l-6.4 6.4" stroke="#7f84e2" stroke-width="1.8"/></svg></div><div class="panel"></div><div class="h1">漏风监测-趋势分析</div><div class="date"><svg viewBox="0 0 14 14"><rect x="1" y="2" width="12" height="11" rx="1" fill="none" stroke="#a4a8b0" stroke-width="1.6"/><path d="M1 5.5h12M4 .5v3M10 .5v3" stroke="#a4a8b0" stroke-width="1.6"/></svg><span style="left:65px">2025-01-01</span><span style="left:186px">-</span><span style="left:228px">2025-03-31</span></div><div class="btn b1">查询</div><div class="btn b2">返回</div><div class="stat" style="left:1485px"><svg viewBox="0 0 26 26"><rect x="2" y="14" width="5" height="10" fill="#7fb0f5"/><rect x="10" y="8" width="5" height="16" fill="#5b9bf0"/><rect x="18" y="2" width="5" height="22" fill="#4a8bec"/></svg><div class="l">日同比</div><div class="v">0%</div></div><div class="stat" style="left:1660px"><svg viewBox="0 0 26 26"><circle cx="13" cy="13" r="10" fill="none" stroke="#5b9bf0" stroke-width="5"/><path d="M13 3a10 10 0 0 1 10 10" fill="none" stroke="#8fc0fa" stroke-width="5"/><circle cx="13" cy="13" r="4" fill="#a9cdf9"/></svg><div class="l">日环比</div><div class="v">0%</div></div><div class="pill" style="left:1822px;top:225px"><i class="a"></i><i class="b"></i></div><div class="sec" style="left:856px;top:211px"><svg class="stripe" viewBox="0 0 30 36"><path d="M1 0L29 36" stroke="#4a80ea" stroke-width="2.4"/><path d="M1 10L21 36" stroke="#8fb4f3" stroke-width="2.2"/><path d="M1 20L13 36" stroke="#bcd2f7" stroke-width="2"/></svg><div class="tt">SCR本体漏风率</div></div><svg style="position:absolute;left:850px;top:279px;width:1026px;height:381px;overflow:visible" viewBox="-10 -10 1026 381"><path d="M0 0.0H1006" stroke="#eceef2" stroke-width="1.8"/><path d="M0 72.2H1006" stroke="#eceef2" stroke-width="1.8"/><path d="M0 144.4H1006" stroke="#eceef2" stroke-width="1.8"/><path d="M0 216.6H1006" stroke="#eceef2" stroke-width="1.8"/><path d="M0 288.8H1006" stroke="#eceef2" stroke-width="1.8"/><path d="M0 361.0H1006" stroke="#dfe3e9" stroke-width="1.8"/><path d="M1006 0V361" stroke="#eceef2" stroke-width="1.8"/><path d="M0 0V361" stroke="#f1f3f6" stroke-width="1.6"/><path d="M1 127.6L1005 71.0" stroke="#5c84c4" stroke-width="2.8" fill="none"/><circle cx="1" cy="127.6" r="4" fill="#6f9be0" stroke="#5c84c4" stroke-width="1.5"/><circle cx="1005" cy="71.0" r="4" fill="#4d79c4" stroke="#4d79c4" stroke-width="1.5"/></svg><div class="lbl" style="left:814px;width:38px;text-align:right;top:282.0px">1.5</div><div class="lbl" style="left:814px;width:38px;text-align:right;top:354.2px">1.2</div><div class="lbl" style="left:814px;width:38px;text-align:right;top:426.4px">0.9</div><div class="lbl" style="left:814px;width:38px;text-align:right;top:498.6px">0.6</div><div class="lbl" style="left:814px;width:38px;text-align:right;top:570.8px">0.3</div><div class="lbl" style="left:814px;width:38px;text-align:right;top:643.0px">0</div><div class="lbl" style="left:844px;top:661px">01-20</div><div class="lbl" style="left:1848px;top:661px">03-19</div><div class="sec" style="left:836px;top:745px"><svg class="stripe" viewBox="0 0 30 36"><path d="M1 0L29 36" stroke="#4a80ea" stroke-width="2.4"/><path d="M1 10L21 36" stroke="#8fb4f3" stroke-width="2.2"/><path d="M1 20L13 36" stroke="#bcd2f7" stroke-width="2"/></svg><div class="tt">计算参数</div></div><div class="card"><svg style="position:absolute;left:1px;top:-2px;width:220px;height:216px;overflow:visible" viewBox="0 0 220 216">
<defs><radialGradient id="g2" cx="50%" cy="50%" r="50%"><stop offset="0" stop-color="#6f9cff" stop-opacity=".8"/><stop offset=".5" stop-color="#8fb3ff" stop-opacity=".38"/><stop offset="1" stop-color="#c4d6ff" stop-opacity="0"/></radialGradient>
<linearGradient id="c2" x1="0" x2="1"><stop offset="0" stop-color="#1f8fe6"/><stop offset="1" stop-color="#49b4f2"/></linearGradient></defs>
<ellipse cx="103" cy="148" rx="74" ry="33" fill="url(#g2)"/>
<path d="M104 105l45 17-45 18-45-18z" fill="#6fa4f4" stroke="#6fa4f4" stroke-width="7" stroke-linejoin="round"/>
<path d="M104 100l45 17-45 18-45-18z" fill="#f4f8fe" stroke="#f4f8fe" stroke-width="7" stroke-linejoin="round"/>
<path d="M62 92c-8 5-7 15 6 20" fill="none" stroke="#86ead0" stroke-width="8" stroke-linecap="round"/>
<path d="M66 92c14-7 26-7 38-3" fill="none" stroke="#b4f2e0" stroke-width="5" stroke-linecap="round" opacity=".8"/>
<path d="M148 96c8 6 4 16-10 21" fill="none" stroke="#3f7cf0" stroke-width="9" stroke-linecap="round"/>
<path d="M106 44l38 14v56l-38-12z" fill="#f0f5fd" stroke="#dde7f8" stroke-width="1.2"/>
<path d="M84 30l42 15v14l-42-15z" fill="#7ba0f2"/>
<path d="M84 40l42 15" stroke="#a9c3f8" stroke-width="3"/>
<path d="M84 46l24 9v44l-24-9z" fill="#dff5f0" opacity=".9"/>
<path d="M96 50c12 12 18 34 18 56" stroke="#8decd2" stroke-width="5" fill="none" opacity=".9"/>
<rect x="78" y="54" width="16" height="45" rx="8" fill="url(#c2)"/>
<ellipse cx="86" cy="58" rx="8" ry="4" fill="#5cc0f5"/>
<ellipse cx="137" cy="58" rx="8" ry="10.5" transform="rotate(-30 137 58)" fill="#3b7cf0"/>
<ellipse cx="126" cy="49" rx="8" ry="4.5" transform="rotate(25 126 49)" fill="#8decd2"/>
<ellipse cx="101" cy="113" rx="14" ry="8.5" transform="rotate(10 101 113)" fill="#2d6ff0"/>
</svg><div class="kv" style="left:208px"><div class="k">SCR出口</div><div class="v"><small>O2:</small><b>2.96</b></div></div><div class="kv" style="left:645px"><div class="k">SCR进口</div><div class="v"><small>O2:</small><b>2.74</b></div></div></div><div class="lc" style="top:202.0px"><div class="top"></div><div class="tt">SCR本体漏风率</div><div class="r" style="left:212px">日同比:<b>0%</b></div><div class="r" style="left:310px">日环比:<b>0%</b></div><div class="pill" style="left:401px;top:18px"><i class="a"></i><i class="b"></i></div><svg style="position:absolute;left:20px;top:56px;width:461px;height:165px;overflow:visible" viewBox="-10 -10 461 165"><path d="M0 0.0H441" stroke="#eceef2" stroke-width="1.8"/><path d="M0 29.0H441" stroke="#eceef2" stroke-width="1.8"/><path d="M0 58.0H441" stroke="#eceef2" stroke-width="1.8"/><path d="M0 87.0H441" stroke="#eceef2" stroke-width="1.8"/><path d="M0 116.0H441" stroke="#eceef2" stroke-width="1.8"/><path d="M0 145.0H441" stroke="#dfe3e9" stroke-width="1.8"/><path d="M441 0V145" stroke="#eceef2" stroke-width="1.8"/><path d="M0 0V145" stroke="#f1f3f6" stroke-width="1.6"/><path d="M1 53.6L440 30.9" stroke="#5c84c4" stroke-width="2.4" fill="none"/><circle cx="1" cy="53.6" r="3.6" fill="#6f9be0" stroke="#5c84c4" stroke-width="1.5"/><circle cx="440" cy="30.9" r="3.6" fill="#4d79c4" stroke="#4d79c4" stroke-width="1.5"/></svg><div class="lbl" style="left:-16px;width:38px;text-align:right;top:59.0px">1.5</div><div class="lbl" style="left:-16px;width:38px;text-align:right;top:88.0px">1.2</div><div class="lbl" style="left:-16px;width:38px;text-align:right;top:117.0px">0.9</div><div class="lbl" style="left:-16px;width:38px;text-align:right;top:146.0px">0.6</div><div class="lbl" style="left:-16px;width:38px;text-align:right;top:175.0px">0.3</div><div class="lbl" style="left:-16px;width:38px;text-align:right;top:204.0px">0</div><div class="lbl" style="left:14px;top:220px">01-20</div><div class="lbl" style="left:453px;top:220px">03-19</div></div><div class="lc" style="top:444.6px"><div class="top"></div><div class="tt">大布袋本体漏风</div><div class="r" style="left:212px">日同比:<b>0%</b></div><div class="r" style="left:310px">日环比:<b>0%</b></div><div class="pill" style="left:401px;top:18px"><i class="a"></i><i class="b"></i></div><svg style="position:absolute;left:20px;top:56px;width:461px;height:165px;overflow:visible" viewBox="-10 -10 461 165"><path d="M0 0.0H441" stroke="#eceef2" stroke-width="1.8"/><path d="M0 24.2H441" stroke="#eceef2" stroke-width="1.8"/><path d="M0 48.3H441" stroke="#eceef2" stroke-width="1.8"/><path d="M0 72.5H441" stroke="#eceef2" stroke-width="1.8"/><path d="M0 96.7H441" stroke="#eceef2" stroke-width="1.8"/><path d="M0 120.8H441" stroke="#eceef2" stroke-width="1.8"/><path d="M0 145.0H441" stroke="#dfe3e9" stroke-width="1.8"/><path d="M441 0V145" stroke="#eceef2" stroke-width="1.8"/><path d="M0 0V145" stroke="#f1f3f6" stroke-width="1.6"/><path d="M1 24.2L440 19.3" stroke="#5c84c4" stroke-width="2.4" fill="none"/><circle cx="1" cy="24.2" r="3.6" fill="#6f9be0" stroke="#5c84c4" stroke-width="1.5"/><circle cx="440" cy="19.3" r="3.6" fill="#4d79c4" stroke="#4d79c4" stroke-width="1.5"/></svg><div class="lbl" style="left:-16px;width:38px;text-align:right;top:59.0px">1.2</div><div class="lbl" style="left:-16px;width:38px;text-align:right;top:83.2px">1</div><div class="lbl" style="left:-16px;width:38px;text-align:right;top:107.3px">0.8</div><div class="lbl" style="left:-16px;width:38px;text-align:right;top:131.5px">0.6</div><div class="lbl" style="left:-16px;width:38px;text-align:right;top:155.7px">0.4</div><div class="lbl" style="left:-16px;width:38px;text-align:right;top:179.8px">0.2</div><div class="lbl" style="left:-16px;width:38px;text-align:right;top:204.0px">0</div><div class="lbl" style="left:14px;top:220px">01-20</div><div class="lbl" style="left:453px;top:220px">03-19</div></div><div class="lc" style="top:687.2px"><div class="top"></div><div class="tt">生料磨本体漏风率</div><div class="r" style="left:212px">日同比:<b>0%</b></div><div class="r" style="left:310px">日环比:<b>0%</b></div><div class="pill" style="left:401px;top:18px"><i class="a"></i><i class="b"></i></div><svg style="position:absolute;left:7px;top:56px;width:474px;height:165px;overflow:visible" viewBox="-10 -10 474 165"><path d="M0 0.0H454" stroke="#eceef2" stroke-width="1.8"/><path d="M0 36.2H454" stroke="#eceef2" stroke-width="1.8"/><path d="M0 72.5H454" stroke="#eceef2" stroke-width="1.8"/><path d="M0 108.8H454" stroke="#eceef2" stroke-width="1.8"/><path d="M0 145.0H454" stroke="#dfe3e9" stroke-width="1.8"/><path d="M454 0V145" stroke="#eceef2" stroke-width="1.8"/><path d="M0 0V145" stroke="#f1f3f6" stroke-width="1.6"/><path d="M1 1.8L453 1.8" stroke="#5c84c4" stroke-width="2.4" fill="none"/><circle cx="1" cy="1.8" r="3.6" fill="#6f9be0" stroke="#5c84c4" stroke-width="1.5"/><circle cx="453" cy="1.8" r="3.6" fill="#4d79c4" stroke="#4d79c4" stroke-width="1.5"/></svg><div class="lbl" style="left:-29px;width:38px;text-align:right;top:59.0px">4</div><div class="lbl" style="left:-29px;width:38px;text-align:right;top:95.2px">3</div><div class="lbl" style="left:-29px;width:38px;text-align:right;top:131.5px">2</div><div class="lbl" style="left:-29px;width:38px;text-align:right;top:167.8px">1</div><div class="lbl" style="left:-29px;width:38px;text-align:right;top:204.0px">0</div><div class="lbl" style="left:1px;top:220px">01-20</div><div class="lbl" style="left:453px;top:220px">03-19</div></div><div class="lc" style="top:929.8px"><div class="top"></div><div class="tt">系统风机到烟囱漏风</div><div class="r" style="left:212px">日同比:<b>0%</b></div><div class="r" style="left:310px">日环比:<b>0%</b></div><div class="pill" style="left:401px;top:18px"><i class="a"></i><i class="b"></i></div><svg style="position:absolute;left:20px;top:56px;width:461px;height:165px;overflow:visible" viewBox="-10 -10 461 165"><path d="M0 0.0H441" stroke="#eceef2" stroke-width="1.8"/><path d="M0 29.0H441" stroke="#eceef2" stroke-width="1.8"/><path d="M0 58.0H441" stroke="#eceef2" stroke-width="1.8"/><path d="M0 87.0H441" stroke="#eceef2" stroke-width="1.8"/><path d="M0 116.0H441" stroke="#eceef2" stroke-width="1.8"/><path d="M0 145.0H441" stroke="#dfe3e9" stroke-width="1.8"/><path d="M441 0V145" stroke="#eceef2" stroke-width="1.8"/><path d="M0 0V145" stroke="#f1f3f6" stroke-width="1.6"/><path d="M1 46.4L440 45.2" stroke="#5c84c4" stroke-width="2.4" fill="none"/><circle cx="1" cy="46.4" r="3.6" fill="#6f9be0" stroke="#5c84c4" stroke-width="1.5"/><circle cx="440" cy="45.2" r="3.6" fill="#4d79c4" stroke="#4d79c4" stroke-width="1.5"/></svg><div class="lbl" style="left:-16px;width:38px;text-align:right;top:59.0px">2.5</div><div class="lbl" style="left:-16px;width:38px;text-align:right;top:88.0px">2</div><div class="lbl" style="left:-16px;width:38px;text-align:right;top:117.0px">1.5</div><div class="lbl" style="left:-16px;width:38px;text-align:right;top:146.0px">1</div><div class="lbl" style="left:-16px;width:38px;text-align:right;top:175.0px">0.5</div><div class="lbl" style="left:-16px;width:38px;text-align:right;top:204.0px">0</div><div class="lbl" style="left:14px;top:220px">01-20</div><div class="lbl" style="left:453px;top:220px">03-19</div></div><div class="sbar" style="height:548px"></div></div></div><svg class="chev2" style="left:62.2px;top:446.4px;width:27.4px;height:19px" viewBox="0 0 27 19"><path d="M0.4 0.5h5.3l6.4 9-6.4 9H0.4l6.4-9z"/><path d="M14.4 0.5h5.3l6.4 9-6.4 9h-5.3l6.4-9z"/></svg><div style="position:absolute;left:-5px;top:534px;width:8px;height:11px;border-radius:50%;background:#e9f1fc;filter:blur(.8px)"></div></body></html>
